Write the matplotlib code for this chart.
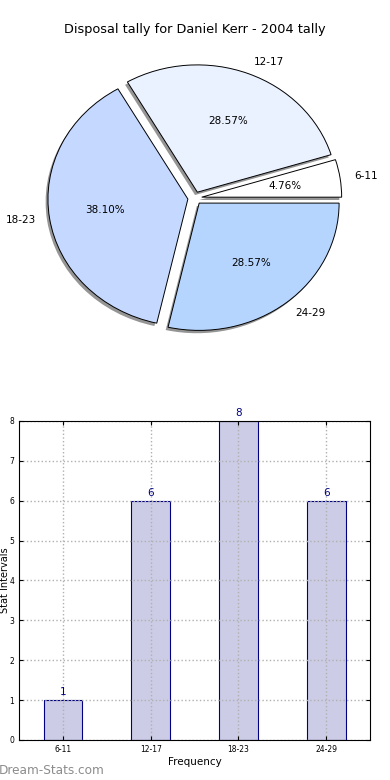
import numpy as np
import matplotlib
matplotlib.use('Agg')
import matplotlib.pyplot as plt

# Data
categories = ['6-11', '12-17', '18-23', '24-29']
counts = [1, 6, 8, 6]
pie_colors = ['#ffffff', '#eaf1ff', '#c5d8ff', '#b5d5ff']
explode = [0.05, 0.05, 0.05, 0.05]

fig = plt.figure(figsize=(3.9, 7.8), dpi=100)

# Title
fig.text(0.5, 1 - 30 / 780, 'Disposal tally for Daniel Kerr - 2004 tally',
         ha='center', va='center', fontsize=9.3)

# Pie chart (elliptical, like old matplotlib)
ax1 = fig.add_axes([0.051, 0.542, 0.897, 0.408])
shadow = {'ox': -0.012, 'oy': -0.016, 'facecolor': '#8a8a8a',
          'edgecolor': 'none', 'alpha': 0.9}
wedges, texts, autotexts = ax1.pie(counts, labels=categories, colors=pie_colors,
                                   explode=explode, autopct='%1.2f%%', shadow=shadow,
                                   startangle=0,
                                   wedgeprops=dict(edgecolor='black', linewidth=0.7),
                                   textprops=dict(fontsize=7.5))
ax1.set_aspect('auto')
ax1.set_xlim(-1.25, 1.25)
ax1.set_ylim(-1.25, 1.25)

# Bar chart
ax2 = fig.add_axes([0.049, 0.0513, 0.9, 0.409])
x = np.arange(len(categories))
ax2.bar(x, counts, width=0.44, color='#cccce6', edgecolor='#000080', linewidth=0.8)
for xi, c in zip(x, counts):
    ax2.text(xi, c + 0.08, str(c), ha='center', va='bottom',
             fontsize=7.5, color='#000080')
ax2.set_xlim(-0.5, 3.5)
ax2.set_ylim(0, 8)
ax2.set_xticks(x)
ax2.set_xticklabels(categories)
ax2.set_yticks(range(0, 9))
ax2.tick_params(labelsize=5.5, direction='in', top=True, right=True, length=3)
ax2.grid(True, linestyle=':', color='#b0b0b0', linewidth=1)
ax2.set_axisbelow(False)
for sp in ax2.spines.values():
    sp.set_zorder(5)
ax2.set_xlabel('Frequency', fontsize=7.5, labelpad=2)
ax2.set_ylabel('Stat Intervals', fontsize=7)
ax2.yaxis.set_label_coords(-0.027, 0.5)

# Watermark
fig.text(-0.003, 1 - 771 / 780, 'Dream-Stats.com', ha='left', va='center',
         fontsize=8.7, color='#8c8c8c')

fig.savefig('out.png', dpi=100)
